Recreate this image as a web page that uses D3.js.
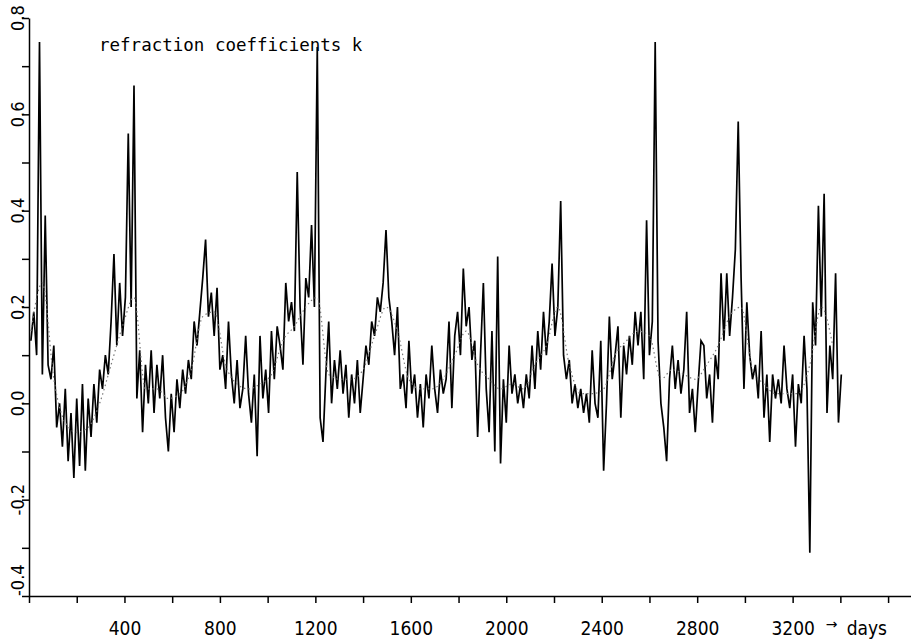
<!DOCTYPE html>
<html>
<head>
<meta charset="utf-8">
<script src="https://cdn.jsdelivr.net/npm/d3@7"></script>
<style>
  body { margin: 0; background: #fff; }
  svg { display: block; }
</style>
</head>
<body>
<svg id="chart"></svg>
<script>
// daily refraction coefficients, sampled every 12 days from day 8
let firstDay = 8, stepDays = 12;
let kValues = [
  0.13, 0.19, 0.10, 0.75, 0.06, 0.39, 0.08, 0.05, 0.12, -0.05, 0.00,
  -0.09, 0.03, -0.12, -0.02, -0.155, 0.01, -0.13, 0.04, -0.14, 0.01, -0.07, 0.04, -0.04, 0.07, 0.03,
  0.10, 0.06, 0.17, 0.31, 0.12, 0.25, 0.14, 0.22, 0.56, 0.20, 0.66,
  0.01, 0.11, -0.06, 0.08, 0.00, 0.11, -0.02, 0.08, 0.01, 0.10, -0.03, -0.10, 0.02, -0.06, 0.05, -0.01, 0.07, 0.02, 0.09,
  0.05, 0.17, 0.12, 0.19, 0.26, 0.34, 0.18, 0.23, 0.14, 0.24, 0.07,
  0.10, 0.03, 0.17, 0.06, 0.00, 0.09, -0.01, 0.03, 0.14, 0.02, -0.04, 0.06, -0.11, 0.14, 0.01, 0.07, -0.02, 0.15, 0.05,
  0.16, 0.12, 0.07, 0.25, 0.17, 0.21, 0.15, 0.48, 0.20, 0.08, 0.26, 0.22, 0.37, 0.20, 0.74,
  -0.03, -0.08, 0.06, 0.17, 0.00, 0.09, 0.03, 0.11, 0.02, 0.08, -0.03, 0.06, 0.00, 0.09, -0.02, 0.05, 0.12, 0.08,
  0.17, 0.14, 0.22, 0.19, 0.25, 0.36, 0.22, 0.17, 0.10, 0.20, 0.03, 0.06, -0.01, 0.13, 0.02, 0.06, -0.03,
  0.04, -0.05, 0.06, 0.01, 0.12, 0.03, -0.02, 0.07, 0.02, 0.05, 0.17, -0.01, 0.14, 0.19, 0.10,
  0.28, 0.16, 0.20, 0.09, 0.13, -0.07, 0.10, 0.25, 0.03, -0.06, 0.15, -0.10, 0.305, -0.125, 0.05, -0.04, 0.12, 0.02, 0.06, 0.00,
  0.04, -0.01, 0.06, 0.01, 0.12, 0.03, 0.15, 0.07, 0.19, 0.10, 0.17, 0.29, 0.14, 0.20, 0.42,
  0.10, 0.05, 0.09, 0.00, 0.04, -0.01, 0.03, -0.02, 0.02, -0.04, 0.11, 0.00, -0.03, 0.13, -0.14, 0.00, 0.18, 0.05, 0.10, 0.16, -0.03, 0.12, 0.06, 0.14, 0.08,
  0.19, 0.12, 0.19, 0.05, 0.38, 0.10, 0.17, 0.75, 0.13, 0.00, -0.05, -0.12,
  0.05, 0.12, 0.03, 0.09, 0.02, 0.07, 0.19, -0.02, 0.03, -0.06, 0.04, 0.13, 0.12, 0.01, 0.06, -0.04, 0.10, 0.05,
  0.27, 0.13, 0.27, 0.14, 0.22, 0.32, 0.585, 0.26, 0.03, 0.21,
  0.10, 0.05, 0.08, 0.01, 0.15, -0.03, 0.06, -0.08, 0.06, 0.01, 0.05, 0.00, 0.12, 0.03, -0.01, 0.06, -0.09, 0.04,
  0.00, 0.14, 0.03, -0.31, 0.21, 0.12, 0.41, 0.18, 0.435, -0.02, 0.12, 0.05, 0.27, -0.04, 0.06
];

// smoothed curve (dotted), every 48 days from day 8
let smoothStep = 48;
let kSmooth = [
  0.15, 0.25, 0.05, -0.04, -0.06, -0.05, 0.00, 0.08, 0.16, 0.22,
  0.03, 0.03, 0.01, 0.02, 0.07, 0.18, 0.19, 0.08, 0.04, 0.03,
  0.04, 0.06, 0.13, 0.16, 0.20, 0.22, 0.06, 0.05, 0.05, 0.07,
  0.14, 0.20, 0.15, 0.05, 0.03, 0.03, 0.05, 0.10, 0.15, 0.08,
  0.05, 0.03, 0.04, 0.03, 0.08, 0.12, 0.20, 0.08, 0.02, 0.02,
  0.03, 0.10, 0.13, 0.15, 0.14, 0.05, 0.07, 0.06, 0.05, 0.08,
  0.12, 0.18, 0.20, 0.07, 0.04, 0.02, 0.02, 0.02, 0.08, 0.20,
  0.12
];

let xTicks = [0, 200, 400, 600, 800, 1000, 1200, 1400, 1600, 1800, 2000, 2200, 2400, 2600, 2800, 3000, 3200, 3400, 3600];
let xLabels = [400, 800, 1200, 1600, 2000, 2400, 2800, 3200];
let yTicks = [-0.4, -0.3, -0.2, -0.1, 0.0, 0.1, 0.2, 0.3, 0.4, 0.5, 0.6, 0.7, 0.8];
let yLabels = ["-0.4", "-0.2", "0.0", "0.2", "0.4", "0.6", "0.8"];

var svgWidth = 911, svgHeight = 640;
var labelFont = "'Liberation Sans Narrow', 'DejaVu Sans Condensed', sans-serif";

var svg = d3.select('#chart')
    .attr("width", svgWidth)
    .attr("height", svgHeight);

var x = d3.scaleLinear().domain([0, 3696]).range([29, 911]);
var y = d3.scaleLinear().domain([-0.4, 0.8]).range([596, 18]);

// axes
var xAxis = svg.append("g")
    .attr("transform", "translate(0," + y(-0.4) + ")")
    .call(d3.axisBottom(x).tickValues(xTicks).tickSize(7).tickSizeOuter(0)
        .tickFormat(function(d){ return xLabels.indexOf(d) >= 0 ? d : ""; }));
xAxis.selectAll("path, line").attr("stroke", "#000").attr("stroke-width", 1.5);
xAxis.selectAll("text")
    .attr("y", 26)
    .attr("font-family", labelFont)
    .attr("font-size", 19)
    .attr("fill", "#000");

var yAxis = svg.append("g")
    .attr("transform", "translate(" + x(0) + ",0)")
    .call(d3.axisLeft(y).tickValues(yTicks).tickSize(7).tickSizeOuter(0).tickFormat(""));
yAxis.selectAll("path, line").attr("stroke", "#000").attr("stroke-width", 1.5);

svg.append("g").selectAll("text")
    .data(yLabels)
    .enter()
    .append("text")
    .attr("transform", function(d){ return "translate(17," + y(+d) + ") rotate(-90)"; })
    .attr("text-anchor", function(d){ return d == "-0.4" ? "start" : "middle"; })
    .attr("dominant-baseline", "central")
    .attr("font-family", labelFont)
    .attr("font-size", 18)
    .text(function(d){ return d; });

svg.append("text")
    .attr("x", x(3200) + 33)
    .attr("y", y(-0.4) + 33)
    .attr("font-family", "'DejaVu Sans', sans-serif")
    .attr("font-size", 14)
    .text("\u2192");
svg.append("text")
    .attr("x", x(3200) + 54)
    .attr("y", y(-0.4) + 39)
    .attr("font-family", labelFont)
    .attr("font-size", 19)
    .text("days");

// title
svg.append("text")
    .attr("x", 99)
    .attr("y", 51)
    .attr("font-family", "'DejaVu Sans Mono', monospace")
    .attr("font-size", 17.5)
    .text("refraction coefficients k");

// lines
var line = d3.line()
    .x(function(d){ return x(d.day); })
    .y(function(d){ return y(d.k); });

var solidData = kValues.map(function(v, i){ return {day: firstDay + i * stepDays, k: v}; });
var smoothData = kSmooth.map(function(v, i){ return {day: firstDay + i * smoothStep, k: v}; });

svg.append("path")
    .datum(solidData)
    .attr("fill", "none")
    .attr("stroke", "#000")
    .attr("stroke-width", 1.7)
    .attr("stroke-linejoin", "miter")
    .attr("d", line);

svg.append("path")
    .datum(smoothData)
    .attr("fill", "none")
    .attr("stroke", "#777")
    .attr("stroke-width", 1.2)
    .attr("stroke-dasharray", "1.5,3")
    .attr("d", line.curve(d3.curveMonotoneX));
</script>
</body>
</html>
